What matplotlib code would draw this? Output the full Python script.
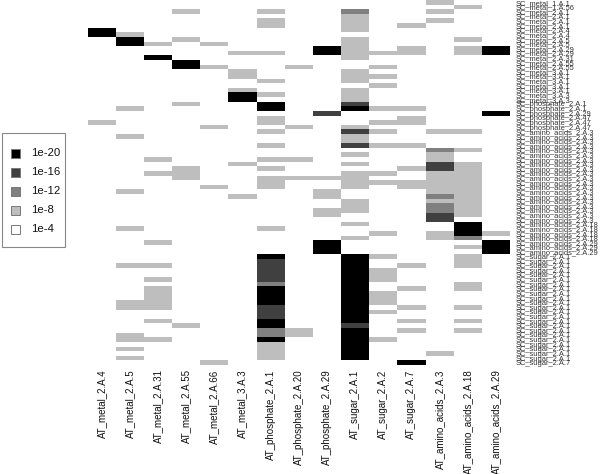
import numpy as np
import matplotlib
matplotlib.use('Agg')
import matplotlib.pyplot as plt
from matplotlib.colors import ListedColormap, BoundaryNorm
from matplotlib.patches import Rectangle

plt.rcParams['font.family'] = ['Liberation Sans', 'DejaVu Sans']

at_names = ['AT_metal_2.A.4', 'AT_metal_2.A.5', 'AT_metal_2.A.31', 'AT_metal_2.A.55', 'AT_metal_2.A.66',
            'AT_metal_3.A.3', 'AT_phosphate_2.A.1', 'AT_phosphate_2.A.20', 'AT_phosphate_2.A.29',
            'AT_sugar_2.A.1', 'AT_sugar_2.A.2', 'AT_sugar_2.A.7',
            'AT_amino_acids_2.A.3', 'AT_amino_acids_2.A.18', 'AT_amino_acids_2.A.29']

sc_metal = ['1.A.1', '1.A.56', '2.A.1', '2.A.1', '2.A.1', '2.A.1', '2.A.4', '2.A.4', '2.A.5', '2.A.5', '2.A.29',
            '2.A.29', '2.A.31', '2.A.55', '2.A.55', '3.A.1', '3.A.1', '3.A.1', '3.A.1', '3.A.1', '3.A.3', '3.A.3']
sc_phosphate = ['2.A.1', '2.A.1', '2.A.29', '2.A.47', '2.A.47', '2.A.47']
sc_amino = ['2.A.3'] * 20 + ['2.A.18'] * 4 + ['2.A.29'] * 3
sc_sugar = ['2.A.1'] * 23 + ['2.A.7']

# rows per e-value level for each AT family
metal_4 = {-20: [6, 7], -8: [26]}
metal_5 = {-20: [8, 9], -8: [7, 23, 29, 41, 49, 57, 65, 66, 72, 73, 75, 77]}
metal_31 = {-20: [12], -8: [9, 34, 37, 52, 57, 60, 62, 63, 64, 65, 66, 69, 73]}
metal_55 = {-20: [13, 14], -8: [2, 8, 22, 36, 37, 38, 70]}
metal_66 = {-8: [9, 14, 27, 40, 78]}
metal_3a3 = {-20: [20, 21], -8: [11, 15, 16, 19, 35, 42]}
phosphate_1 = {-20: [22, 23, 55, 62, 63, 64, 65, 69, 70, 73],
               -16: [56, 57, 58, 59, 60, 66, 67, 68],
               -12: [61, 71, 72],
               -8: [2, 4, 5, 11, 17, 20, 25, 26, 28, 31, 34, 36, 38, 39, 40, 49, 74, 75, 76, 77]}
phosphate_20 = {-8: [14, 27, 34, 38, 71, 72]}
phosphate_29 = {-20: [10, 11, 52, 53, 54], -16: [24], -8: [38, 41, 42, 45, 46]}
sugar_1 = {-20: [23, 55, 56, 57, 58, 59, 60, 61, 62, 63, 64, 65, 66, 67, 68, 69, 71, 72, 73, 74, 75, 76, 77],
           -16: [22, 28, 31, 70],
           -12: [2],
           -8: [3, 4, 5, 6, 8, 9, 10, 11, 12, 15, 16, 17, 19, 20, 21, 27, 29, 30, 33, 35,
                37, 38, 39, 40, 43, 44, 45, 48, 51]}
sugar_2 = {-8: [11, 14, 16, 18, 23, 26, 28, 31, 37, 39, 50, 55, 58, 59, 60, 63, 64, 65, 67, 73]}
sugar_7 = {-20: [78], -8: [5, 10, 11, 23, 25, 26, 31, 36, 39, 40, 57, 62, 66, 69, 71]}
amino_3 = {-16: [35, 36, 46, 47],
           -12: [32, 42, 44, 45],
           -8: [0, 2, 4, 28, 33, 34, 37, 38, 39, 40, 41, 43, 50, 51, 76]}
amino_18 = {-20: [48, 49, 50],
            -12: [51],
            -8: [1, 8, 10, 11, 28, 32, 35, 36, 37, 38, 39, 40, 41, 42, 43, 44, 45, 46,
                 53, 55, 56, 57, 61, 62, 66, 69, 71]}
amino_29 = {-20: [10, 11, 24, 52, 53, 54], -8: [50]}

at_columns = [metal_4, metal_5, metal_31, metal_55, metal_66, metal_3a3, phosphate_1, phosphate_20,
              phosphate_29, sugar_1, sugar_2, sugar_7, amino_3, amino_18, amino_29]

legend_labels = ['1e-20', '1e-16', '1e-12', '1e-8', '1e-4']
legend_colors = ['#000000', '#404040', '#808080', '#bebebe', '#ffffff']


def run():
	sc_names = [f'SC_metal_{k}' for k in sc_metal]
	sc_names += [f'SC_phosphate_{k}' for k in sc_phosphate]
	sc_names += [f'SC_amino_acids_{k}' for k in sc_amino]
	sc_names += [f'SC_sugar_{k}' for k in sc_sugar]

	grid = np.full((len(sc_names), len(at_names)), -4.0)
	for col, levels in enumerate(at_columns):
		for level, rows in levels.items():
			grid[rows, col] = level

	fig = plt.figure(figsize=(6, 4.74), dpi=100)
	ax = fig.add_axes([87.7 / 600, 1 - 365 / 474, 422.3 / 600, 365 / 474])

	cmap = ListedColormap(legend_colors)
	norm = BoundaryNorm([-22, -18, -14, -10, -6, -2], cmap.N)
	ax.pcolormesh(np.arange(len(at_names) + 1), np.arange(len(sc_names) + 1), grid, cmap=cmap, norm=norm)
	ax.invert_yaxis()

	for spine in ax.spines.values():
		spine.set_visible(False)

	ax.set_xticks(np.arange(len(at_names)) + 0.5)
	ax.set_xticklabels(at_names, rotation=90, fontsize=7)
	ax.set_yticks(np.arange(len(sc_names)) + 0.5)
	ax.set_yticklabels(sc_names, fontsize=5.4)
	ax.yaxis.tick_right()
	ax.tick_params(axis='x', length=0, pad=3.2, colors='#111111')
	ax.tick_params(axis='y', length=0, pad=4.2, colors='#333333')

	# legend box, drawn in pixel units so its padding follows the picture
	leg = fig.add_axes([0, 0, 1, 1], facecolor='none')
	leg.set_xlim(0, 600)
	leg.set_ylim(474, 0)
	leg.axis('off')
	leg.add_patch(Rectangle((1.5, 133), 63.5, 114, facecolor='white', edgecolor='#888888', linewidth=0.8))
	for i, (color, label) in enumerate(zip(legend_colors, legend_labels)):
		y = 153 + 19 * i
		leg.add_patch(Rectangle((11, y - 4.5), 9, 9, facecolor=color, edgecolor='#777777', linewidth=0.7))
		leg.text(31.5, y, label, fontsize=8.2, va='center', ha='left', color='#111111')

	fig.savefig('out.png', dpi=100)


if __name__ == "__main__":
	run()
